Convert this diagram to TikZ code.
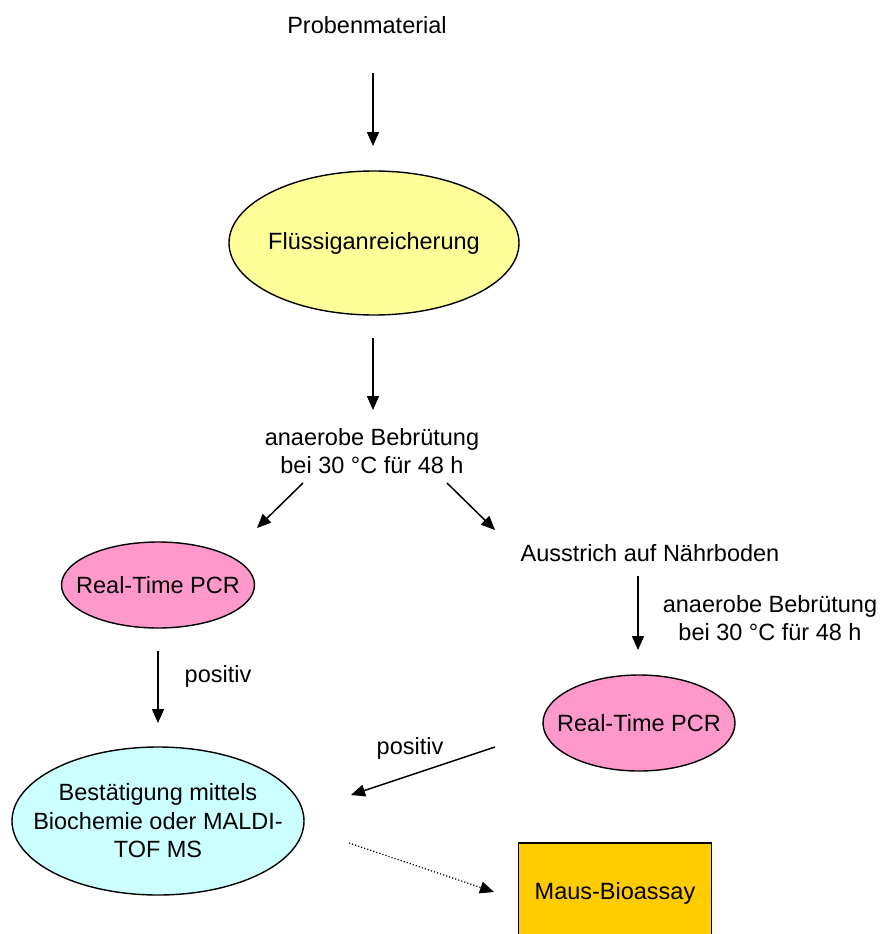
\documentclass[tikz,border=0pt]{standalone}
\usepackage{fontspec}
\setmainfont{Liberation Sans}
\usepackage{tikz}
\usetikzlibrary{arrows.meta, positioning, shapes.geometric}
\usepackage{xcolor}
\definecolor{lightyellow}{HTML}{FFFF99}
\definecolor{lightpink}{HTML}{FF99CC}
\definecolor{lightcyan}{HTML}{CCFFFF}
\definecolor{gold}{HTML}{FFCC00}

\begin{document}
\begin{tikzpicture}[x=1pt, y=-1pt,
    every node/.style={font=\fontsize{23.5}{28.5}\selectfont, align=center},
    blob/.style={ellipse, draw, line width=1.4pt, inner xsep=-45pt, inner ysep=-15pt},
    arr/.style={line width=1.5pt, -{Triangle[length=14pt,width=12pt]}},
    dotarr/.style={line width=1.2pt, dotted, -{Triangle[length=14pt,width=12pt]}}]
  \clip (0,0) rectangle (881,934);
  % top part
  \node (probe) at (367,25) {Probenmaterial};
  \node[blob, fill=lightyellow, minimum width=290pt, minimum height=144pt] (fluessig) at (374,243) {Flüssiganreicherung};
  \node (bebr1) at (372,451) {anaerobe Bebrütung\\bei 30~°C für 48 h};
  \coordinate (a1s) at (373,73);   \coordinate (a1e) at (373,146);
  \coordinate (a2s) at (373,338);  \coordinate (a2e) at (373,410);
  \draw[arr] (a1s) -- (a1e);
  \draw[arr] (a2s) -- (a2e);
  % left branch
  \node[blob, fill=lightpink, minimum width=193pt, minimum height=86pt] (pcrL) at (158,585) {Real-Time PCR};
  \node (posL) at (218,676) {positiv};
  \node[blob, fill=lightcyan, minimum width=292pt, minimum height=148pt] (best) at (158,821) {Bestätigung mittels\\Biochemie oder MALDI-\\TOF MS};
  \coordinate (a3s) at (303,483); \coordinate (a3e) at (257,528);
  \coordinate (a4s) at (158,651); \coordinate (a4e) at (158,723);
  \draw[arr] (a3s) -- (a3e);
  \draw[arr] (a4s) -- (a4e);
  % right branch
  \node (ausstrich) at (650,553) {Ausstrich auf Nährboden};
  \node (bebr2) at (770,618) {anaerobe Bebrütung\\bei 30~°C für 48 h};
  \node[blob, fill=lightpink, minimum width=192pt, minimum height=96pt] (pcrR) at (639,723) {Real-Time PCR};
  \node (posR) at (410,748) {positiv};
  \coordinate (a5s) at (447,483); \coordinate (a5e) at (495,530);
  \coordinate (a6s) at (638,576); \coordinate (a6e) at (638,650);
  \coordinate (a7s) at (495,747); \coordinate (a7e) at (351,795);
  \draw[arr] (a5s) -- (a5e);
  \draw[arr] (a6s) -- (a6e);
  \draw[arr] (a7s) -- (a7e);
  % bioassay
  \node[draw, line width=1.4pt, fill=gold, minimum width=193pt, minimum height=100pt] (maus) at (615,893) {Maus-Bioassay};
  \coordinate (a8s) at (349,843); \coordinate (a8e) at (494,892);
  \draw[dotarr] (a8s) -- (a8e);
\end{tikzpicture}
\end{document}
